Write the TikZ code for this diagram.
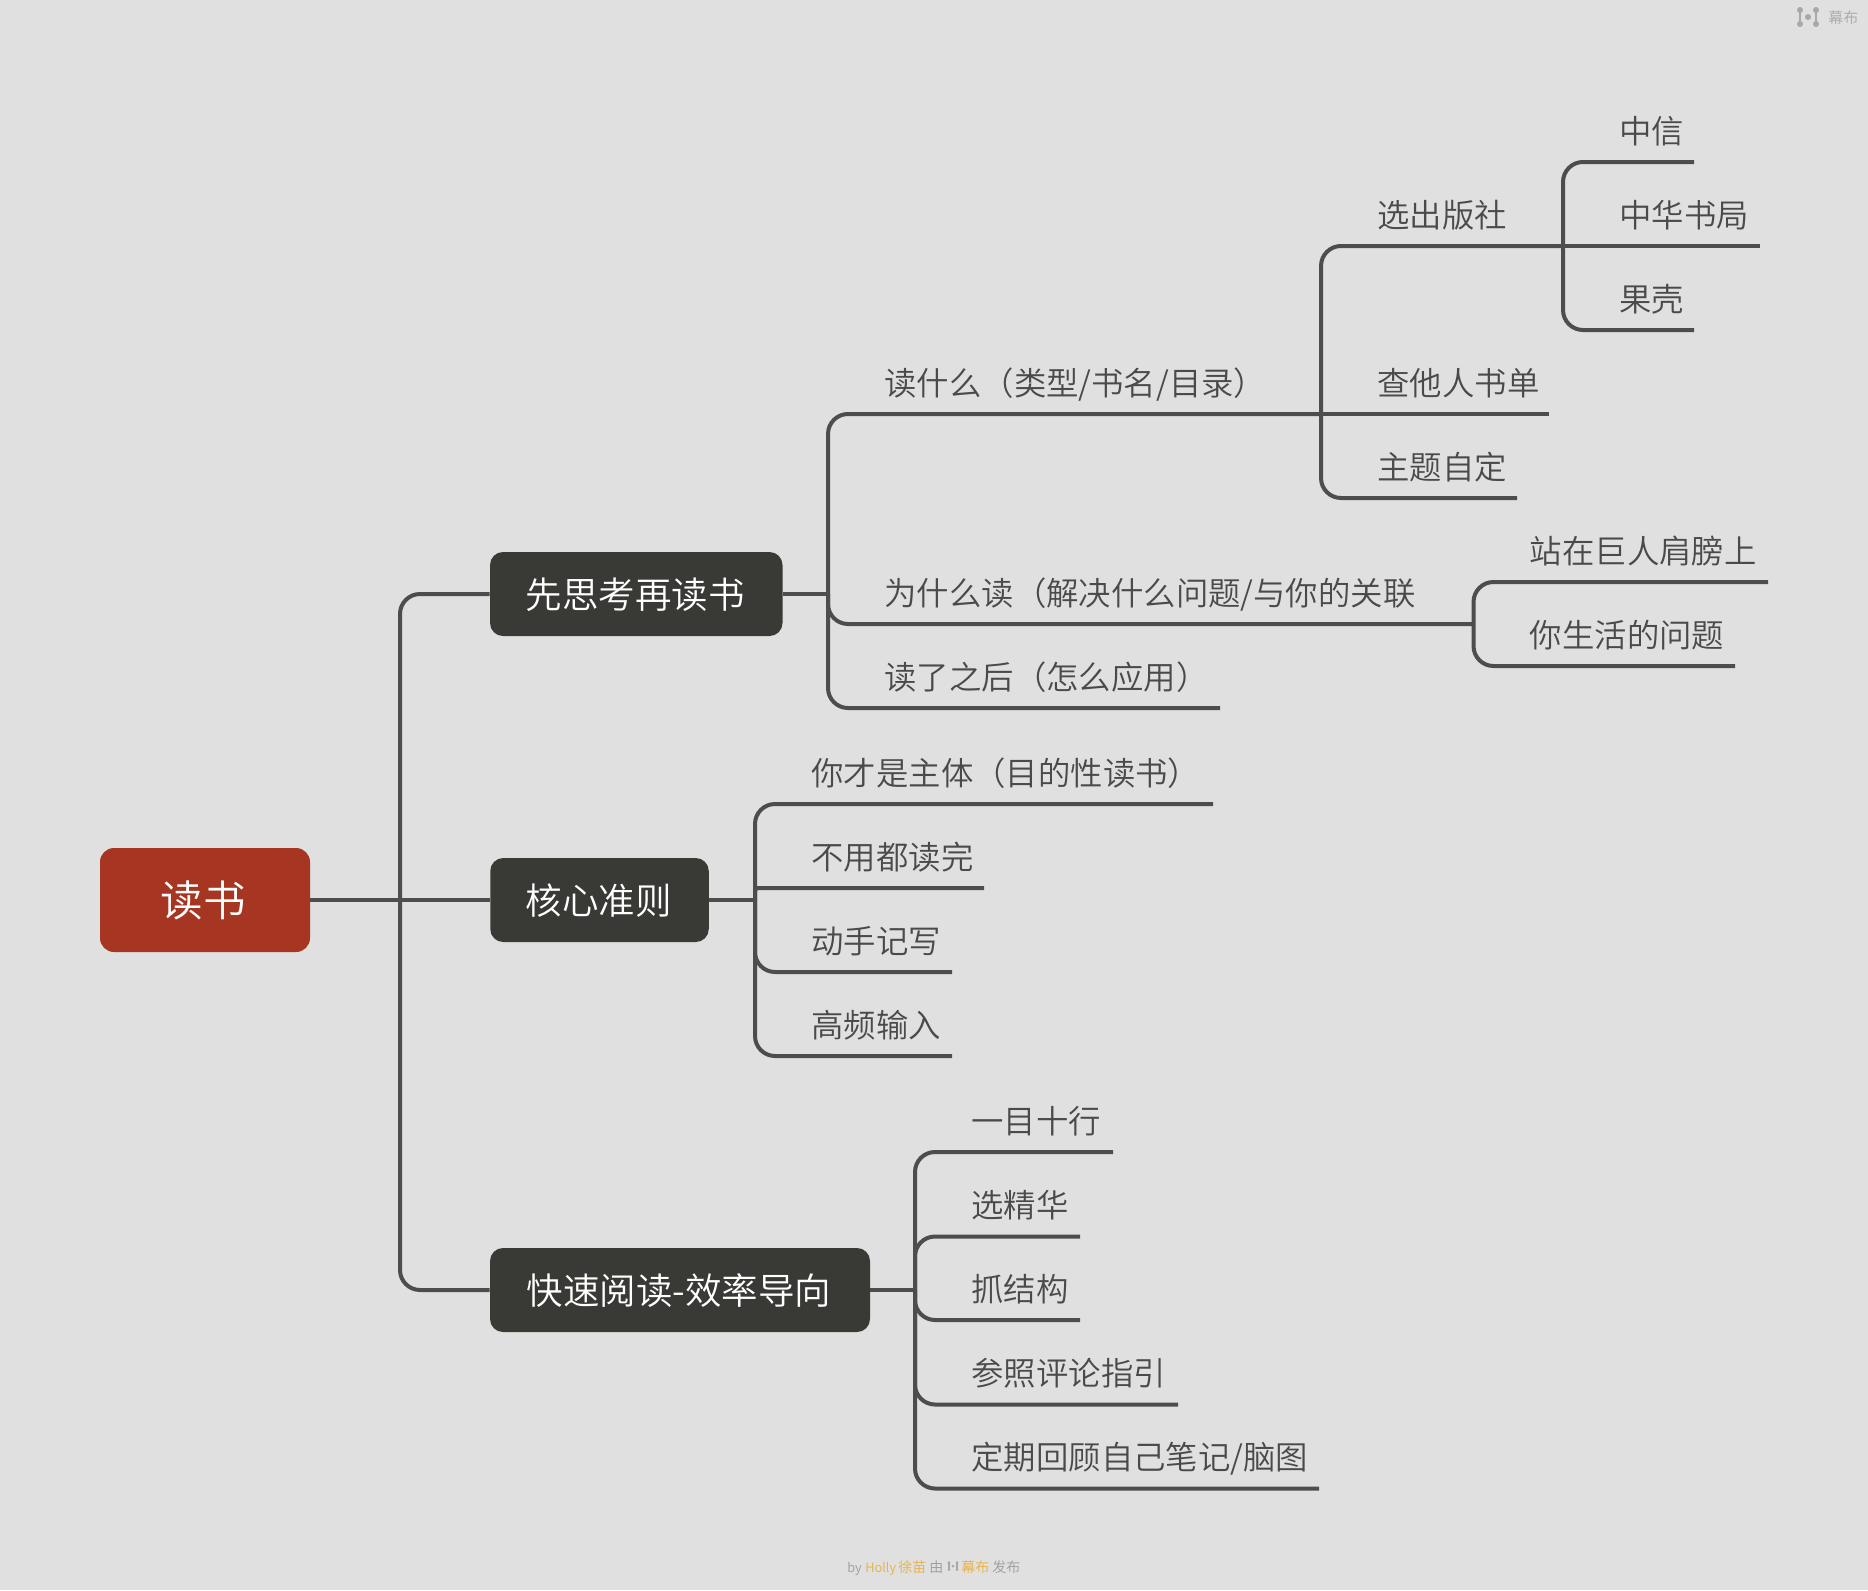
\documentclass[tikz,border=0pt]{standalone}
\usepackage{fontspec}
\setmainfont{Noto Sans CJK SC}[UprightFont=* DemiLight]
\definecolor{bgc}{HTML}{E0E0E0}
\definecolor{linec}{HTML}{4D4D4D}
\definecolor{rootc}{HTML}{A63622}
\definecolor{topicc}{HTML}{393A36}
\definecolor{txtc}{HTML}{4A4A4A}
\definecolor{markc}{HTML}{A8A8A8}
\definecolor{footc}{HTML}{9C9C9C}
\definecolor{amberc}{HTML}{E8B040}
\tikzset{
  conn/.style={draw=linec,line width=2pt,rounded corners=10pt},
  rootbox/.style={fill=rootc,rounded corners=7pt,inner sep=0pt,minimum width=105pt,minimum height=52pt},
  topicbox/.style={fill=topicc,rounded corners=6.5pt,inner sep=0pt,minimum height=42pt},
  roottext/.style={text=white,font=\fontsize{21.3}{25}\selectfont,inner sep=0pt,xshift=-1pt},
  topictext/.style={text=white,font=\fontsize{18.25}{22}\selectfont,inner sep=0pt,xshift=-0.4pt,yshift=-0.5pt},
  kidtext/.style={anchor=base west,inner sep=0pt,text=txtc,font=\fontsize{16.2}{20}\selectfont,xshift=28pt,yshift=9.4pt},
  foottext/.style={anchor=base west,inner sep=0pt,font=\fontsize{7}{8}\selectfont},
  logoline/.style={draw=markc,line width=0.8pt},
}
% name, bus, y, end x, text
\newcommand{\kidnode}[5]{%
  \coordinate (#1e) at (#4,#3);
  \draw[conn] (#2) |- (#1e);
  \node[kidtext] (#1) at (#2 |- #1e) {#5};
}
% same, for a child at the height of its parent
\newcommand{\kidflat}[5]{%
  \coordinate (#1e) at (#4,#3);
  \draw[conn] (#2) -- (#1e);
  \node[kidtext] (#1) at (#2 |- #1e) {#5};
}
\newcommand{\logomark}[3]{%
  \begin{scope}[shift={(#1,#2)},scale=#3]
    \draw[logoline] (-8,-7) -- (-8,7) (8,-7) -- (8,7);
    \fill[markc] (-8,-7) circle (1.5pt) (-8,7) circle (1.5pt) (8,-7) circle (1.5pt) (8,7) circle (1.5pt) (0,0) circle (1.5pt);
  \end{scope}
}
\begin{document}
\begin{tikzpicture}[x=0.5pt,y=-0.5pt]
\useasboundingbox[fill=bgc] (0,0) rectangle (1868,1590);

% main nodes
\node[rootbox] (root) at (205,900) {};
\node[roottext] (roottxt) at (root.center) {读书};
\node[topicbox,minimum width=146.25pt] (t1) at (636.25,594) {};
\node[topictext] (t1txt) at (t1.center) {先思考再读书};
\node[topicbox,minimum width=109.25pt] (t2) at (599.5,900) {};
\node[topictext] (t2txt) at (t2.center) {核心准则};
\node[topicbox,minimum width=190pt] (t3) at (680,1290) {};
\node[topictext] (t3txt) at (t3.center) {快速阅读-效率导向};

% level one connectors
\coordinate (b0) at (400,900);
\draw[conn] (root.east) -- (t2.west);
\draw[conn] (b0) |- (t1.west);
\draw[conn] (b0) |- (t3.west);

% first branch
\coordinate (b1) at (828,594);
\draw[conn] (t1.east) -- (b1);
\kidnode{a1}{b1}{414}{1321}{读什么（类型/书名/目录）}
\kidnode{a2}{b1}{624}{1473.5}{为什么读（解决什么问题/与你的关联}
\kidnode{a3}{b1}{708}{1220}{读了之后（怎么应用）}

\kidnode{c1}{a1e}{246}{1563}{选出版社}
\kidflat{c2}{a1e}{414}{1549}{查他人书单}
\kidnode{c3}{a1e}{498}{1517}{主题自定}

\kidnode{d1}{c1e}{162}{1694}{中信}
\kidflat{d2}{c1e}{246}{1760}{中华书局}
\kidnode{d3}{c1e}{330}{1694}{果壳}

\kidnode{f1}{a2e}{582}{1768}{站在巨人肩膀上}
\kidnode{f2}{a2e}{666}{1735}{你生活的问题}

% second branch
\coordinate (b2) at (755,900);
\draw[conn] (t2.east) -- (b2);
\kidnode{g1}{b2}{804}{1213}{你才是主体（目的性读书）}
\coordinate (g2e) at (984,888);
\draw[conn,rounded corners=1.5pt] (b2) |- (g2e);
\node[kidtext] (g2) at (b2 |- g2e) {不用都读完};
\kidnode{g3}{b2}{972}{952}{动手记写}
\kidnode{g4}{b2}{1056}{952}{高频输入}

% third branch
\coordinate (b3) at (915,1290);
\draw[conn] (t3.east) -- (b3);
\kidnode{h1}{b3}{1152}{1113}{一目十行}
\kidnode{h2}{b3}{1236.5}{1080}{选精华}
\kidnode{h3}{b3}{1320}{1080}{抓结构}
\kidnode{h4}{b3}{1404.5}{1178}{参照评论指引}
\kidnode{h5}{b3}{1488.5}{1319}{定期回顾自己笔记/脑图}

% watermark
\logomark{1808}{17}{1}
\node[anchor=west,inner sep=0pt,text=markc,font=\fontsize{7.5}{9}\selectfont] (wm) at (1828,18) {幕布};

% footer
\node[foottext,font=\fontsize{6.4}{8}\selectfont,text=footc] (by) at (847,1572) {by};
\node[foottext,font=\fontsize{6.4}{8}\selectfont,text=amberc] (holly) at (865,1572) {Holly};
\node[foottext,text=amberc] (xu) at (898,1572) {徐苗};
\node[foottext,text=footc] (you) at (929,1572) {由};
\logomark{953}{1566}{0.5}
\node[foottext,text=amberc] (mu) at (961,1572) {幕布};
\node[foottext,text=footc] (fa) at (992,1572) {发布};
\end{tikzpicture}
\end{document}
